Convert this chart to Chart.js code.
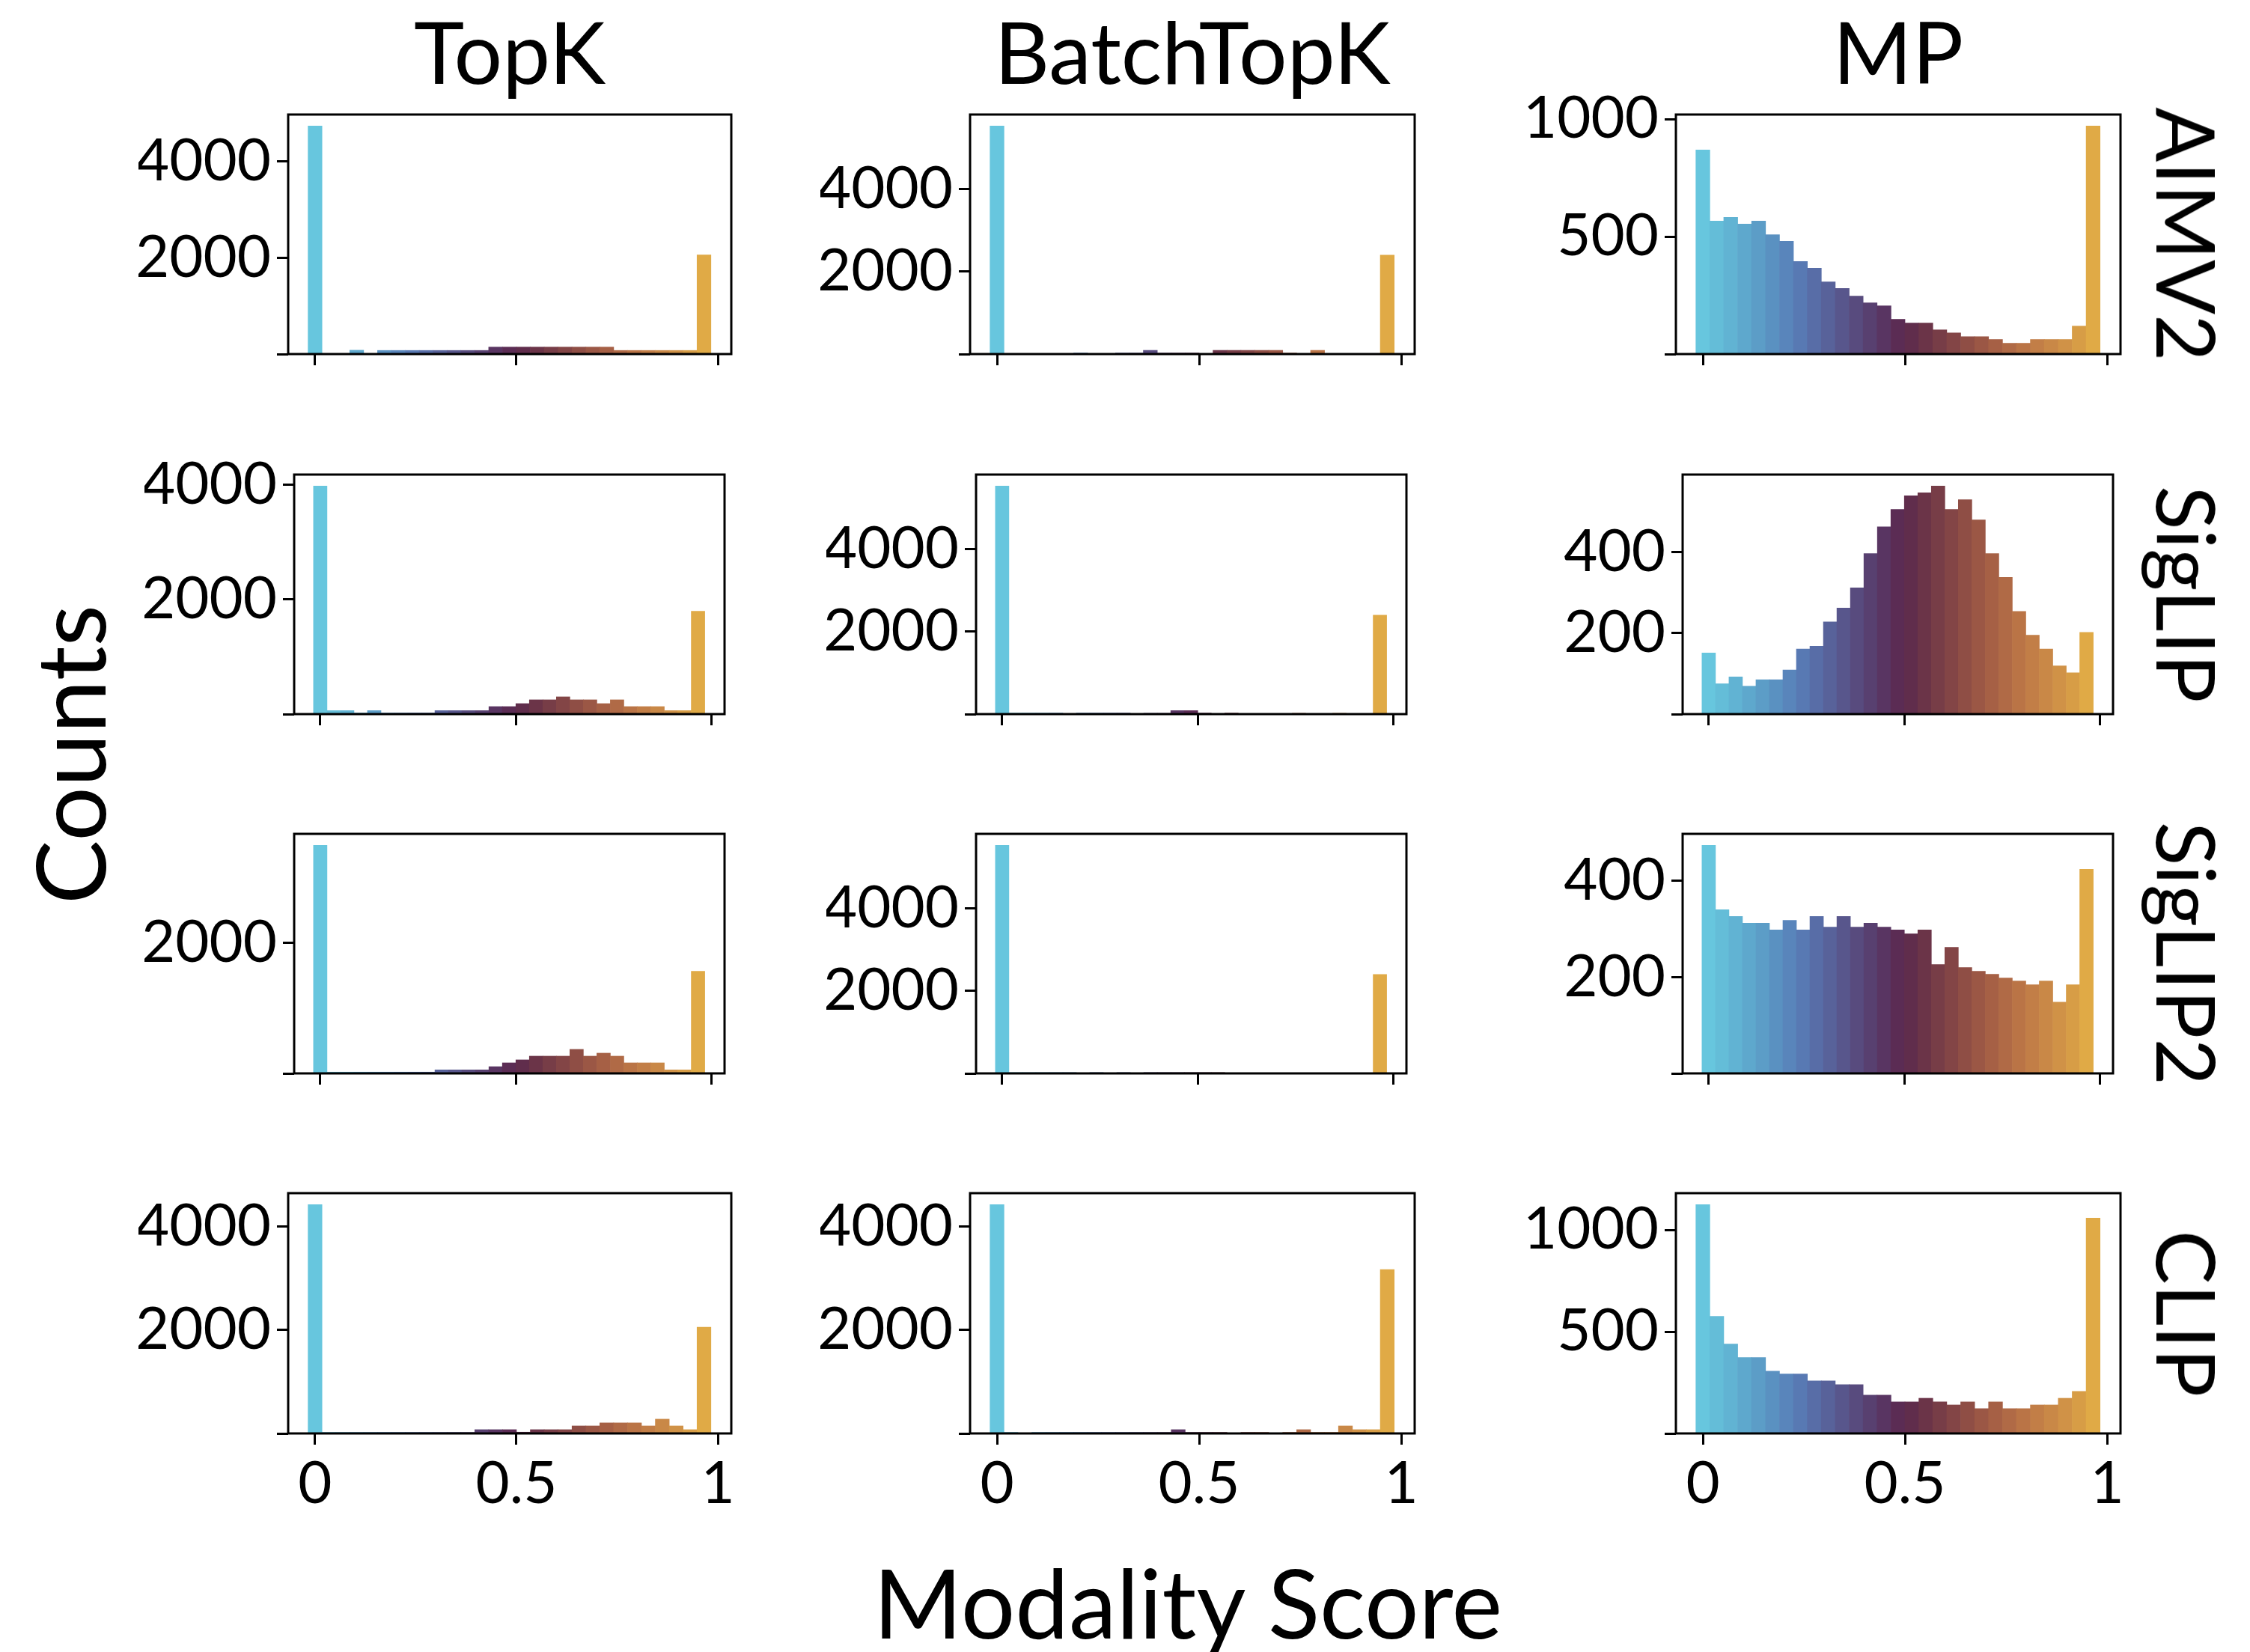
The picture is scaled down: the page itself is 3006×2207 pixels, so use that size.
<!DOCTYPE html>
<html><head><meta charset="utf-8">
<script src="https://cdn.jsdelivr.net/npm/chart.js@4.4.1/dist/chart.umd.min.js"></script>
<style>
html,body{margin:0;padding:0;background:#fff;}
#root{position:relative;width:3006px;height:2207px;background:#fff;overflow:hidden;font-family:Lato,sans-serif;color:#000;}
canvas{position:absolute;}
.lbl{position:absolute;white-space:nowrap;line-height:1;font-family:Lato,sans-serif;color:#000;}
</style></head><body><div id="root"></div>
<script>
// ---- data ----
const methods = ['TopK', 'BatchTopK', 'MP'];
const encoders = ['AIMV2', 'SigLIP', 'SigLIP2', 'CLIP'];
const xTickValues = [0, 0.5, 1];
const xTickLabels = ['0', '0.5', '1'];
const yTicksTopK = [0, 2000, 4000];
const yTicksMPLarge = [0, 500, 1000];
const yTicksMPSmall = [0, 200, 400];
const nBins = 29;

const topkAIMV2 = [4740, 0, 0, 80, 0, 75, 75, 75, 75, 75, 75, 75, 75, 145, 145, 145, 145, 145, 145, 145, 145, 145, 75, 75, 75, 75, 75, 75, 2060];
const batchAIMV2 = [5530, 0, 0, 0, 0, 0, 25, 0, 0, 25, 25, 90, 25, 25, 25, 0, 90, 90, 90, 90, 90, 25, 0, 90, 0, 0, 0, 0, 2400];
const mpAIMV2 = [869, 566, 582, 553, 566, 508, 480, 394, 365, 307, 279, 247, 218, 205, 148, 132, 132, 103, 90, 74, 74, 62, 46, 46, 62, 62, 62, 119, 971];

const topkSigLIP = [3980, 61, 61, 20, 61, 20, 20, 20, 20, 61, 61, 61, 61, 131, 131, 183, 249, 249, 301, 249, 249, 183, 249, 131, 131, 131, 61, 61, 1795];
const batchSigLIP = [5530, 25, 25, 25, 25, 0, 25, 25, 25, 25, 0, 20, 20, 85, 85, 25, 0, 25, 0, 0, 0, 0, 20, 0, 0, 20, 0, 0, 2400];
const mpSigLIP = [151, 75, 92, 69, 85, 85, 109, 161, 168, 228, 262, 312, 397, 463, 506, 540, 547, 564, 506, 530, 480, 397, 338, 254, 195, 161, 119, 102, 202];

const topkSigLIP2 = [3494, 20, 20, 20, 20, 20, 20, 20, 20, 54, 54, 54, 54, 103, 161, 207, 264, 264, 264, 368, 264, 310, 264, 161, 161, 161, 54, 54, 1563];
const batchSigLIP2 = [5530, 20, 20, 20, 20, 20, 0, 20, 0, 20, 0, 20, 20, 20, 20, 20, 20, 0, 0, 0, 0, 0, 0, 0, 0, 0, 0, 0, 2400];
const mpSigLIP2 = [474, 340, 326, 312, 312, 298, 318, 298, 326, 304, 326, 304, 312, 304, 298, 290, 298, 226, 262, 220, 212, 206, 198, 192, 184, 192, 148, 184, 424];

const topkCLIP = [4422, 20, 20, 20, 20, 20, 20, 20, 20, 20, 20, 20, 73, 73, 73, 25, 73, 73, 73, 145, 145, 204, 204, 204, 145, 276, 145, 73, 2051];
const batchCLIP = [4422, 20, 0, 20, 20, 20, 20, 20, 20, 20, 20, 20, 20, 73, 20, 20, 20, 0, 20, 20, 0, 20, 73, 20, 20, 145, 73, 73, 3166];
const mpCLIP = [1125, 576, 439, 373, 373, 306, 292, 292, 258, 258, 240, 240, 188, 188, 155, 155, 173, 155, 140, 155, 122, 155, 122, 122, 140, 140, 173, 207, 1059];

const grid = [
  [topkAIMV2, batchAIMV2, mpAIMV2],
  [topkSigLIP, batchSigLIP, mpSigLIP],
  [topkSigLIP2, batchSigLIP2, mpSigLIP2],
  [topkCLIP, batchCLIP, mpCLIP]
];
const yTickSets = [
  [yTicksTopK, yTicksTopK, yTicksMPLarge],
  [yTicksTopK, yTicksTopK, yTicksMPSmall],
  [yTicksTopK, yTicksTopK, yTicksMPSmall],
  [yTicksTopK, yTicksTopK, yTicksMPLarge]
];

// ---- style ----
const palette = ['#67C6DE','#64BDD8','#61B3D3','#5EA8CD','#5C9DC7','#5A91C1','#5985BB','#5879B3','#586DA7','#58629A','#58568C','#584B7E','#584070','#593562','#5B2C54','#602D4C','#6B3448','#773D47','#834546','#8F4E45','#9B5745','#A66045','#B06A46','#BA7446','#C27E47','#C98847','#D09247','#D79D46','#E0AA46'];
const FONT = 'Lato';
const outerL = [385, 1296, 2239], outerR = [977, 1890, 2833];
const innerL = [393, 1304, 2248], innerR = [968, 1879, 2823];
const rowT = [153, 634, 1114, 1594], rowB = [473, 954, 1434, 1915];
const Y_W = 200, PAD_T = 60, PAD_R = 60, X_H = 110;

const root = document.getElementById('root');

const framePlugin = {
  id: 'frame',
  afterDatasetsDraw(chart) {
    const a = chart.chartArea, ctx = chart.ctx;
    ctx.save();
    ctx.strokeStyle = '#000';
    ctx.lineWidth = 3;
    ctx.strokeRect(a.left, a.top, a.right - a.left, a.bottom - a.top);
    ctx.restore();
  }
};

const binCenters = Array.from({length: nBins}, (_, i) => i / nBins);

for (let r = 0; r < 4; r++) {
  for (let c = 0; c < 3; c++) {
    const inner = (r === 1 || r === 2);
    const L = inner ? innerL[c] : outerL[c];
    const R = inner ? innerR[c] : outerR[c];
    const T = rowT[r], B = rowB[r];
    const cv = document.createElement('canvas');
    const w = Y_W + (R - L) + PAD_R, h = PAD_T + (B - T) + X_H;
    cv.width = w; cv.height = h;
    cv.style.left = (L - Y_W) + 'px';
    cv.style.top = (T - PAD_T) + 'px';
    cv.style.width = w + 'px'; cv.style.height = h + 'px';
    root.appendChild(cv);
    const vals = grid[r][c];
    const ymax = Math.max(...vals) * 1.05;
    const yt = yTickSets[r][c].filter(v => v <= ymax);
    const bottomRow = (r === 3);
    new Chart(cv.getContext('2d'), {
      type: 'bar',
      data: {
        datasets: [{
          data: vals.map((v, i) => ({x: binCenters[i], y: v})),
          backgroundColor: palette,
          borderWidth: 0,
          barPercentage: 1,
          categoryPercentage: 1
        }]
      },
      options: {
        responsive: false,
        animation: false,
        devicePixelRatio: 1,
        layout: {padding: {top: PAD_T, right: PAD_R, left: 0, bottom: 0}},
        plugins: {legend: {display: false}, tooltip: {enabled: false}},
        scales: {
          x: {
            type: 'linear', min: -0.0667, max: 1.0333, offset: false,
            afterBuildTicks: s => { s.ticks = xTickValues.map(v => ({value: v})); },
            afterFit: s => { s.height = X_H; },
            ticks: {
              display: bottomRow, autoSkip: false, maxRotation: 0, padding: 6,
              color: '#000', font: {family: FONT, size: 78},
              callback: (v) => xTickLabels[xTickValues.indexOf(v)]
            },
            grid: {offset: false, drawOnChartArea: false, drawTicks: true, tickLength: 15, tickWidth: 3, tickColor: '#000'},
            border: {display: false}
          },
          y: {
            type: 'linear', min: 0, max: ymax,
            afterBuildTicks: s => { s.ticks = yt.map(v => ({value: v})); },
            afterFit: s => { s.width = Y_W; },
            ticks: {
              autoSkip: false, padding: 8, color: '#000', font: {family: FONT, size: 78},
              callback: (v) => v === 0 ? '' : String(v)
            },
            grid: {drawOnChartArea: false, drawTicks: true, tickLength: 15, tickWidth: 3, tickColor: '#000'},
            border: {display: false}
          }
        }
      },
      plugins: [framePlugin]
    });
  }
}

function addLabel(text, x, y, size, rot) {
  const d = document.createElement('div');
  d.className = 'lbl';
  d.textContent = text;
  d.style.fontSize = size + 'px';
  d.style.left = x + 'px';
  d.style.top = y + 'px';
  d.style.transform = 'translate(-50%,-50%) rotate(' + rot + 'deg)';
  root.appendChild(d);
}
for (let c = 0; c < 3; c++) {
  addLabel(methods[c], (outerL[c] + outerR[c]) / 2, 68, 114, 0);
}
for (let r = 0; r < 4; r++) {
  addLabel(encoders[r], 2923, (rowT[r] + rowB[r]) / 2, 108, 90);
}
addLabel('Counts', 92, 1008, 128, -90);
addLabel('Modality Score', 1587, 2140, 128, 0);
</script>
</body></html>
